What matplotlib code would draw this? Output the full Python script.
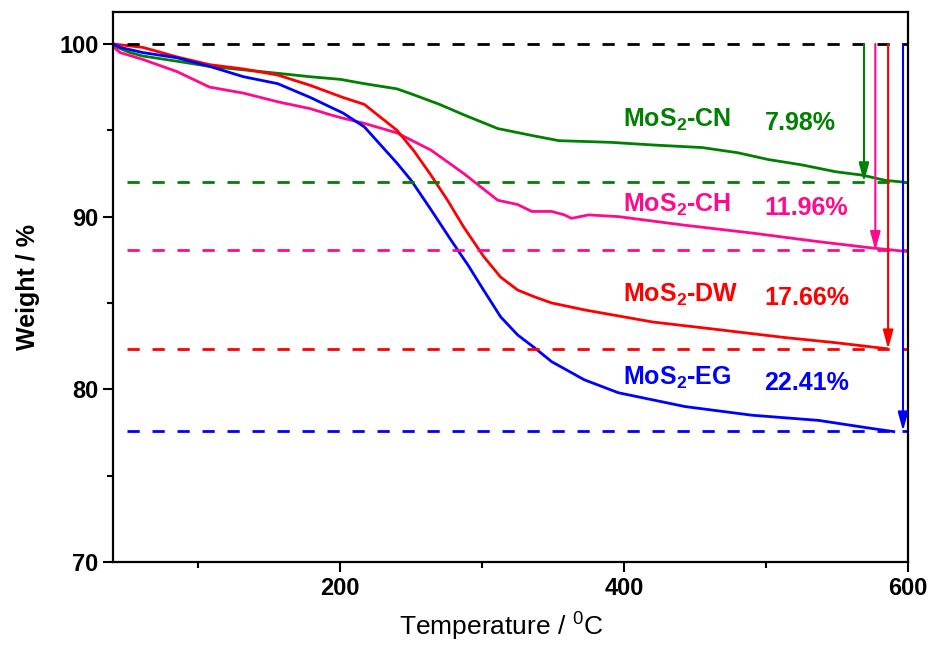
import matplotlib
matplotlib.use('Agg')
from matplotlib import pyplot as plt
from matplotlib.ticker import MultipleLocator

plt.rcParams['font.family'] = ['Liberation Sans', 'DejaVu Sans']
plt.rcParams['mathtext.fontset'] = 'custom'
plt.rcParams['mathtext.rm'] = 'Liberation Sans'
plt.rcParams['mathtext.bf'] = 'Liberation Sans:bold'

# TGA curves (temperature in C, weight in %)
cn_t = [40, 43, 52, 61, 85, 108, 132, 156, 179, 200, 217, 240, 252, 270, 287, 311,
        335, 354, 391, 420, 455, 480, 502, 525, 549, 568, 584, 603]
cn_w = [100, 99.8, 99.5, 99.3, 99.0, 98.7, 98.5, 98.3, 98.1, 97.95, 97.7, 97.4, 97.05,
        96.5, 95.9, 95.1, 94.7, 94.4, 94.3, 94.15, 94.0, 93.7, 93.3, 93.0, 92.6, 92.4,
        92.1, 91.95]

ch_t = [40, 42, 45, 61, 85, 108, 132, 156, 179, 193, 202, 217, 240, 264, 287, 311,
        325, 335, 349, 358, 363, 375, 396, 443, 490, 537, 573, 603]
ch_w = [100, 99.7, 99.5, 99.1, 98.4, 97.5, 97.15, 96.65, 96.25, 95.9, 95.7, 95.4,
        94.85, 93.85, 92.5, 90.95, 90.7, 90.3, 90.3, 90.1, 89.9, 90.1, 90.0, 89.5,
        89.05, 88.55, 88.2, 87.95]

dw_t = [40, 45, 61, 85, 108, 132, 156, 179, 202, 217, 240, 252, 264, 276, 287, 301,
        313, 325, 337, 349, 372, 420, 467, 513, 549, 585]
dw_w = [100, 99.95, 99.8, 99.25, 98.8, 98.55, 98.2, 97.6, 96.9, 96.5, 95.0, 93.8, 92.4,
        90.9, 89.4, 87.7, 86.5, 85.75, 85.35, 85.0, 84.6, 83.9, 83.45, 83.0, 82.7, 82.35]

eg_t = [40, 45, 61, 85, 108, 132, 156, 179, 193, 202, 217, 240, 250, 264, 278, 290,
        301, 313, 325, 337, 349, 372, 396, 443, 490, 537, 573, 590]
eg_w = [100, 99.8, 99.5, 99.2, 98.7, 98.1, 97.7, 96.9, 96.35, 96.0, 95.2, 93.1, 92.1,
        90.4, 88.65, 87.2, 85.75, 84.2, 83.15, 82.4, 81.6, 80.55, 79.8, 79.0, 78.5,
        78.2, 77.75, 77.55]

names = ['MoS$_\\mathbf{2}$-CN', 'MoS$_\\mathbf{2}$-CH', 'MoS$_\\mathbf{2}$-DW', 'MoS$_\\mathbf{2}$-EG']
losses = [7.98, 11.96, 17.66, 22.41]
colors = ['#008000', '#FF0A8C', '#FF0000', '#0000FF']
arrow_t = [569, 577, 586, 596.5]
name_y = [95.2, 90.3, 85.05, 80.25]
pct_y = [95.0, 90.1, 84.9, 79.95]

fig = plt.figure(figsize=(9.35, 6.45), dpi=100)
ax = fig.add_axes([0.1209, 0.1287, 0.8502, 0.8527])

curves = [(cn_t, cn_w), (ch_t, ch_w), (dw_t, dw_w), (eg_t, eg_w)]
for (t, w), c in zip(curves, colors):
    ax.plot(t, w, color=c, lw=2.0)

# reference levels
ax.plot([50, 600], [100, 100], color='k', lw=2.0, dashes=(4.4, 4.6))
for loss, c in zip(losses, colors):
    ax.plot([50, 600], [100 - loss, 100 - loss], color=c, lw=2.0, dashes=(4.4, 4.6))

# loss arrows and labels
for i in range(4):
    c = colors[i]
    ax.annotate('', xy=(arrow_t[i], 100 - losses[i]), xytext=(arrow_t[i], 100),
                arrowprops=dict(arrowstyle='-|>,head_length=0.8,head_width=0.22',
                                mutation_scale=14, color=c, lw=1.5,
                                shrinkA=0, shrinkB=0))
    ax.text(399, name_y[i], names[i], color=c, fontsize=18, fontweight='bold',
            ha='left', va='baseline')
    ax.text(499, pct_y[i], '%.2f%%' % losses[i], color=c, fontsize=18,
            fontweight='bold', ha='left', va='baseline')

ax.set_xlim(40, 600)
ax.set_ylim(70, 101.85)
ax.xaxis.set_major_locator(MultipleLocator(200))
ax.xaxis.set_minor_locator(MultipleLocator(100))
ax.yaxis.set_major_locator(MultipleLocator(10))
ax.yaxis.set_minor_locator(MultipleLocator(5))
ax.tick_params(which='major', length=7, width=1.5, direction='out', labelsize=17)
ax.tick_params(which='minor', length=4, width=1.5, direction='out')
for lab in ax.get_xticklabels() + ax.get_yticklabels():
    lab.set_fontweight('bold')
for s in ax.spines.values():
    s.set_linewidth(1.6)

ax.set_xlabel('Temperature / $^{\\mathrm{0}}$C', fontsize=19)
ax.xaxis.set_label_coords(0.488, -0.085)
ax.set_ylabel('Weight / %', fontsize=18, fontweight='bold', labelpad=14)

fig.savefig('out.png', dpi=100)
